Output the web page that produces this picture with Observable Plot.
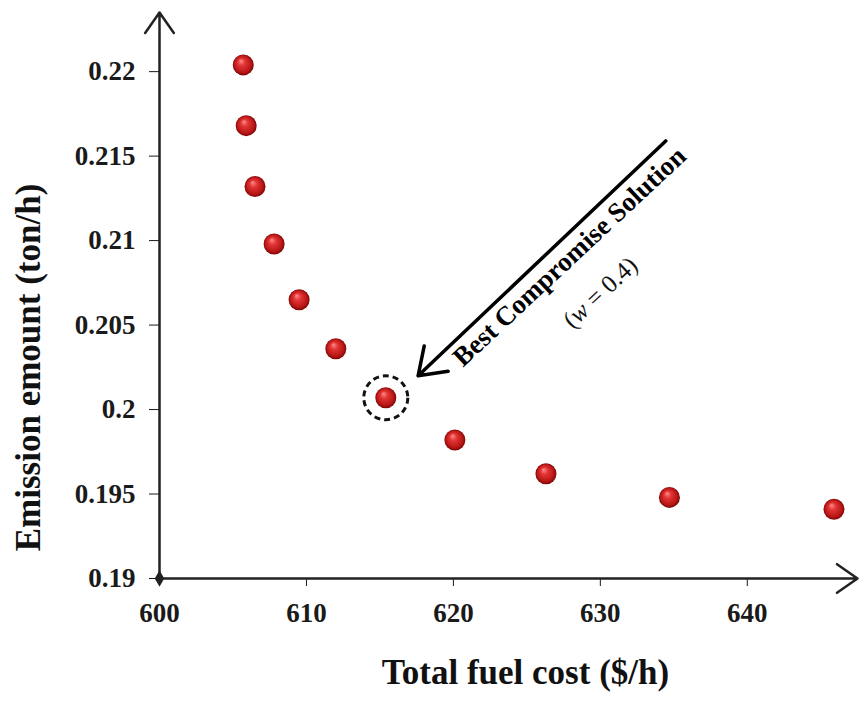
<!DOCTYPE html>
<html>
<head>
<meta charset="utf-8">
<script src="https://cdn.jsdelivr.net/npm/d3@7"></script>
<script src="https://cdn.jsdelivr.net/npm/@observablehq/plot@0.6"></script>
<style>
  html, body { margin: 0; padding: 0; background: #fff; }
</style>
</head>
<body>
<div id="chart"></div>
<script>
// ---- data ----
const fuelCost = [605.7, 605.9, 606.5, 607.8, 609.5, 612.0, 615.4, 620.1, 626.3, 634.7, 645.9];
const emission = [0.2204, 0.2168, 0.2132, 0.2098, 0.2065, 0.2036, 0.2007, 0.1982, 0.1962, 0.1948, 0.1941];
const bestIndex = 6;
const xTicks = [600, 610, 620, 630, 640];
const yTicks = [0.19, 0.195, 0.2, 0.205, 0.21, 0.215, 0.22];
const xDomain = [600, 647.5];
const yDomain = [0.19, 0.2235];
const annotationArrow = [{x1: 634.45, y1: 0.2159, x2: 617.6, y2: 0.2020}];
const annotationLabel = ["Best Compromise Solution"];
const annotationLabelPos = [{x: 627.9, y: 0.20905}];
const weightLabel = ["(w = 0.4)"];
const weightLabelPos = [{x: 630.0, y: 0.20692}];
const xTitle = ["Total fuel cost ($/h)"];
const xTitlePos = [{x: 624.9, y: 0.18444}];
const yTitle = ["Emission emount (ton/h)"];
const yTitlePos = [{x: 591.1, y: 0.20249}];

const points = fuelCost.map((c, i) => ({cost: c, emission: emission[i]}));
const best = [points[bestIndex]];

const serif = "'Liberation Serif', 'DejaVu Serif', serif";

const plot = Plot.plot({
  width: 861,
  height: 702,
  marginLeft: 159,
  marginRight: 4,
  marginTop: 12,
  marginBottom: 124,
  style: {fontFamily: serif, fontWeight: "bold", fontSize: "27px", color: "#1a1a1a", background: "#fff", overflow: "visible"},
  x: {domain: xDomain, ticks: xTicks, tickSize: 8, tickPadding: 16, label: null, tickFormat: d => String(d)},
  y: {domain: yDomain, ticks: yTicks, tickSize: 10, tickPadding: 14, label: null, tickFormat: d => String(+d.toFixed(3))},
  marks: [
    // axis lines with arrow heads
    Plot.arrow([{x1: xDomain[0], y1: yDomain[0], x2: xDomain[1], y2: yDomain[0]}],
      {x1: "x1", y1: "y1", x2: "x2", y2: "y2", stroke: "#222", strokeWidth: 2.5, headLength: 15, headAngle: 70}),
    Plot.arrow([{x1: xDomain[0], y1: yDomain[0], x2: xDomain[0], y2: yDomain[1]}],
      {x1: "x1", y1: "y1", x2: "x2", y2: "y2", stroke: "#222", strokeWidth: 2.5, headLength: 15, headAngle: 70}),
    Plot.dot([{x: xDomain[0], y: yDomain[0]}], {x: "x", y: "y", symbol: "diamond", r: 5, fill: "#222"}),
    // points
    Plot.dot(points, {x: "cost", y: "emission", r: 10.5, fill: "url(#ballGrad)", stroke: "none"}),
    // dashed ring around best compromise
    Plot.dot(best, {x: "cost", y: "emission", r: 22, fill: "none", stroke: "#111", strokeWidth: 3, strokeDasharray: "6,4"}),
    // annotation arrow
    Plot.arrow(annotationArrow, {x1: "x1", y1: "y1", x2: "x2", y2: "y2", stroke: "#000", strokeWidth: 3.5, headLength: 13, headAngle: 70}),
    Plot.text(annotationLabel, {x: annotationLabelPos.map(d => d.x), y: annotationLabelPos.map(d => d.y), rotate: -43, fontSize: 27, fontWeight: "bold", fill: "#000"}),
    Plot.text(weightLabel, {x: weightLabelPos.map(d => d.x), y: weightLabelPos.map(d => d.y), rotate: -43, fontSize: 25, fontWeight: "normal", fill: "#111", className: "wlabel"}),
    // axis titles
    Plot.text(xTitle, {x: xTitlePos.map(d => d.x), y: xTitlePos.map(d => d.y), fontSize: 35, fontWeight: "bold", fill: "#111"}),
    Plot.text(yTitle, {x: yTitlePos.map(d => d.x), y: yTitlePos.map(d => d.y), rotate: -90, fontSize: 35, fontWeight: "bold", fill: "#111"})
  ]
});

// gradient for the 3-D looking spheres
const svg = d3.select(plot);
const defs = svg.insert("defs", ":first-child");
const grad = defs.append("radialGradient").attr("id", "ballGrad")
  .attr("cx", "50%").attr("cy", "50%").attr("r", "50%").attr("fx", "38%").attr("fy", "30%");
grad.append("stop").attr("offset", "0%").attr("stop-color", "#ff8c8c");
grad.append("stop").attr("offset", "35%").attr("stop-color", "#e23434");
grad.append("stop").attr("offset", "80%").attr("stop-color", "#b81616");
grad.append("stop").attr("offset", "100%").attr("stop-color", "#7c0606");

// italic w in the weight label
svg.selectAll(".wlabel text").each(function() {
  const t = d3.select(this);
  t.text(null);
  t.append("tspan").text("(");
  t.append("tspan").attr("font-style", "italic").text("w");
  t.append("tspan").text(" = 0.4)");
});

document.getElementById("chart").append(plot);
</script>
</body>
</html>
